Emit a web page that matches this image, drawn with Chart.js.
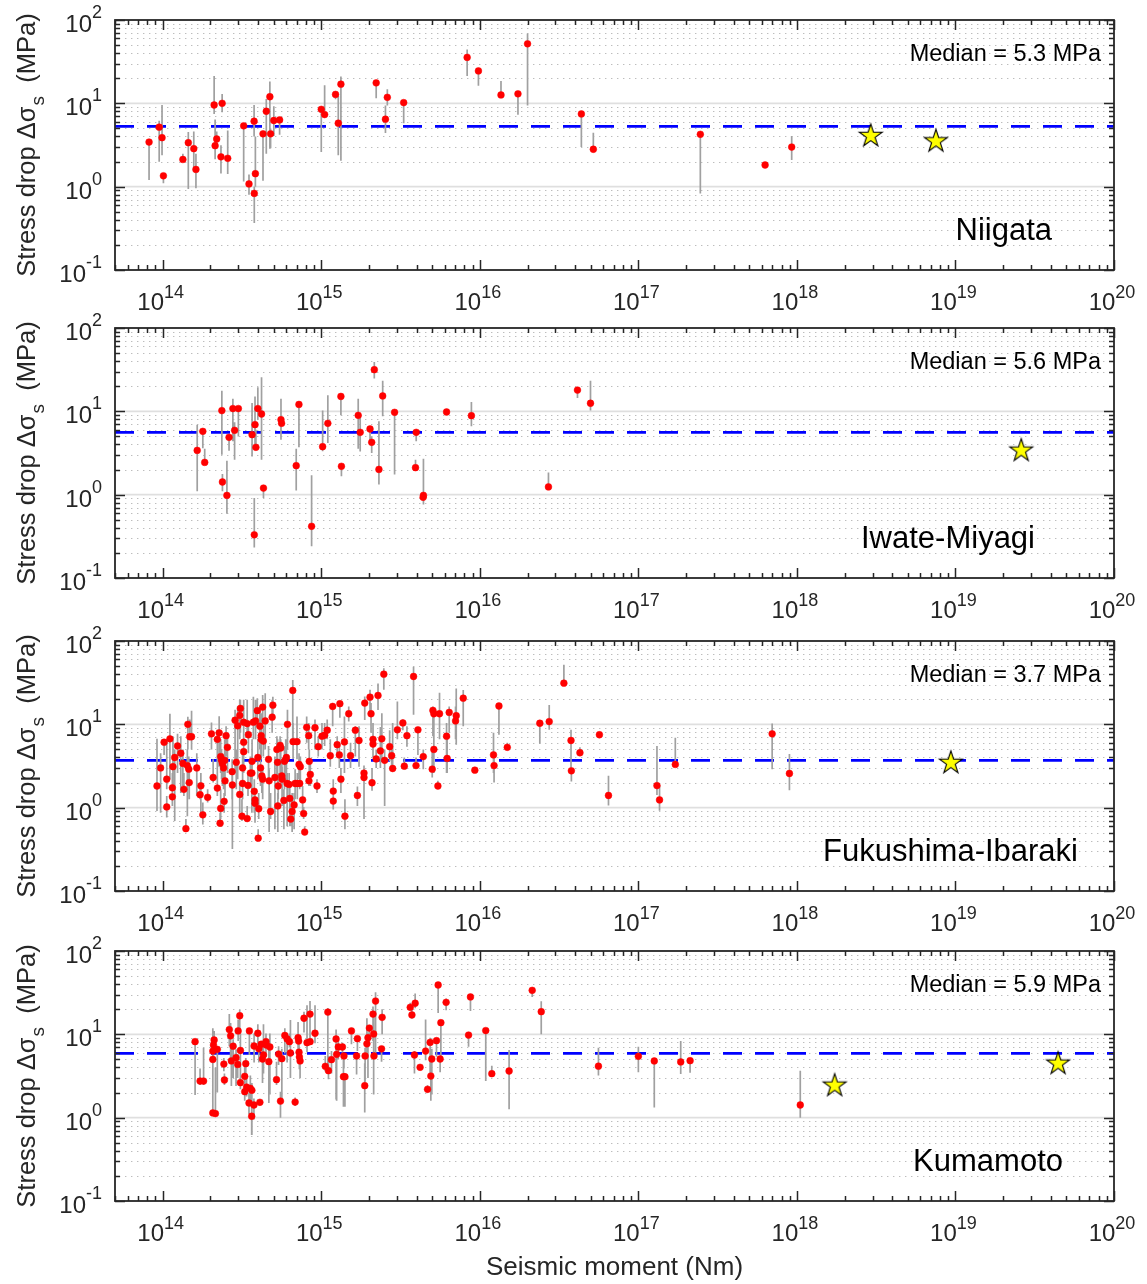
<!DOCTYPE html>
<html><head><meta charset="utf-8">
<script src="https://cdn.jsdelivr.net/npm/chart.js@4.4.1/dist/chart.umd.min.js"></script>
<style>
html,body{margin:0;padding:0;background:#fff;}
body{width:1147px;height:1284px;position:relative;overflow:hidden;}
canvas{position:absolute;left:0;}
</style></head>
<body>
<canvas id="c0"></canvas><canvas id="c1"></canvas><canvas id="c2"></canvas><canvas id="c3"></canvas>
<script>
// ---------------- DATA ----------------
const xTickExp = [14, 15, 16, 17, 18, 19, 20];
const yTickExp = [-1, 0, 1, 2];
const regionNames = ['Niigata', 'Iwate-Miyagi', 'Fukushima-Ibaraki', 'Kumamoto'];
const medians = [5.3, 5.6, 3.7, 5.9];
const xTitle = 'Seismic moment (Nm)';

// Niigata
const niigataM  = [8.2e13,9.5e13,9.9e13,1.01e14,1.34e14,1.45e14,1.57e14,1.62e14,2.11e14,2.14e14,2.19e14,2.37e14,2.33e14,2.57e14,3.24e14,3.5e14,3.77e14,3.78e14,3.84e14,4.29e14,4.5e14,4.74e14,4.79e14,5.02e14,5.46e14,1.0e15,1.05e15,1.23e15,1.28e15,1.33e15,2.22e15,2.61e15,2.54e15,3.31e15,8.32e15,9.8e15,1.36e16,1.74e16,2.0e16,4.37e16,5.2e16,2.46e17,6.3e17,9.27e17];
const niigataSd = [3.43,5.18,3.87,1.35,2.12,3.37,2.86,1.61,9.55,3.1,3.73,10,2.28,2.19,5.37,1.08,6.1,0.83,1.43,4.31,8.03,12.0,4.31,6.22,6.33,8.48,7.33,12.8,5.78,17.0,17.6,11.8,6.45,10.2,35.6,24.5,12.6,13.0,51.8,7.46,2.81,4.25,1.82,2.99];
const niigataLo = [1.2,1.99,2.38,1.1,2.12,0.94,1.65,0.955,7.46,2.13,3.2,7.8,1.44,1.42,1.15,0.8,4.0,0.366,1.0,1.18,2.49,2.86,2.9,4.05,4.2,2.61,7.33,11.2,2.38,2.04,11.5,9.4,4.4,5.78,21.3,16.2,12.6,7.3,9.4,2.99,2.81,0.83,1.75,2.09];
const niigataHi = [3.43,6.2,9.55,1.35,2.49,4.52,4.6,2.49,21.3,6.4,4.6,12.9,3.13,4.73,5.37,1.4,9.55,1.0,4.0,4.31,11.3,18.3,5.0,9.2,6.33,8.48,16.5,12.8,12.3,21,17.6,14.8,9.4,10.2,44.3,24.5,18.5,13.0,68.8,7.46,4.43,4.25,1.9,4.06];
const niigataStarM = [2.92e18, 7.53e18];
const niigataStarSd = [4.17, 3.6];

// Iwate-Miyagi
const iwateM  = [1.65e14,1.79e14,1.84e14,2.36e14,2.38e14,2.54e14,2.62e14,2.77e14,2.84e14,3.0e14,3.66e14,3.82e14,3.87e14,3.78e14,3.98e14,4.2e14,4.32e14,5.57e14,5.62e14,6.95e14,7.23e14,8.69e14,1.02e15,1.1e15,1.33e15,1.34e15,1.71e15,1.76e15,2.03e15,2.08e15,2.16e15,2.31e15,2.44e15,2.9e15,3.97e15,3.93e15,4.41e15,4.39e15,6.17e15,8.85e15,2.71e16,4.13e16,4.99e16];
const iwateSd = [3.4,5.75,2.44,10.2,1.42,0.98,4.88,10.8,5.92,10.8,5.25,6.92,3.7,0.33,10.8,9.29,1.2,7.94,7.18,2.23,12.1,0.417,3.77,7.18,15.1,2.19,8.95,5.6,6.14,4.25,31.6,2.01,15.3,9.73,5.6,2.11,0.98,0.93,9.82,8.87,1.24,18.0,12.5];
const iwateLo = [1.1,3.6,2.44,3.02,1.1,0.59,3.37,4.37,2.63,5.0,2.88,3.98,3.7,0.233,7.94,2.63,0.91,4.57,7.18,1.12,3.7,0.24,3.31,4.17,8.95,1.66,3.56,3.3,4.0,3.16,24.7,1.32,8.71,1.74,4.37,2.11,0.76,0.93,9.82,6.61,1.24,14.5,10.2];
const iwateHi = [6.9,5.75,3.56,17.7,1.77,2.56,4.88,14.2,7.38,10.8,12.6,15.1,6.0,0.91,19.4,25.6,1.2,14.2,7.18,3.56,12.1,1.71,10.2,15.6,15.1,2.19,14.2,9.0,6.14,5.0,39.1,7.59,23.3,9.73,5.6,2.63,2.7,0.98,9.82,12.9,1.85,18.0,23.3];
const iwateStarM = [2.6e19];
const iwateStarSd = [3.47];

// Fukushima-Ibaraki
const fukuM  = [9.2e13,9.7e13,1.02e14,1.06e14,1.06e14,1.11e14,1.15e14,1.15e14,1.16e14,1.19e14,1.24e14,1.30e14,1.34e14,1.36e14,1.40e14,1.43e14,1.44e14,1.46e14,1.47e14,1.48e14,
 1.52e14,1.64e14,1.74e14,1.72e14,1.79e14,1.92e14,2.03e14,2.08e14,2.21e14,2.21e14,2.27e14,2.30e14,2.32e14,2.32e14,2.35e14,2.38e14,2.42e14,2.46e14,2.44e14,2.47e14,
 2.51e14,2.56e14,2.74e14,2.75e14,2.86e14,2.91e14,2.97e14,3.06e14,3.09e14,3.06e14,3.16e14,3.19e14,3.19e14,3.24e14,3.24e14,3.24e14,3.41e14,3.45e14,3.47e14,3.41e14,
 3.57e14,3.65e14,3.66e14,3.73e14,3.78e14,3.82e14,3.82e14,3.85e14,3.95e14,3.98e14,4.0e14,4.03e14,4.10e14,4.14e14,4.18e14,4.18e14,4.22e14,4.27e14,4.31e14,4.27e14,
 4.43e14,4.65e14,4.69e14,4.79e14,4.90e14,4.95e14,5.10e14,5.25e14,5.30e14,5.32e14,5.35e14,5.50e14,5.55e14,5.64e14,5.66e14,5.81e14,5.86e14,5.97e14,6.03e14,6.09e14,
 6.27e14,6.12e14,6.33e14,6.42e14,6.55e14,6.61e14,6.64e14,6.74e14,6.84e14,7.03e14,7.06e14,7.24e14,7.31e14,7.38e14,7.63e14,7.74e14,7.86e14,8.09e14,8.33e14,8.40e14,
 8.53e14,8.36e14,9.13e14,9.4e14,9.57e14,1.01e15,1.05e15,1.09e15,1.14e15,1.18e15,1.19e15,1.19e15,1.31e15,1.26e15,1.30e15,1.33e15,1.40e15,1.41e15,1.49e15,1.53e15,
 1.64e15,1.69e15,1.73e15,1.86e15,1.86e15,1.88e15,2.03e15,2.06e15,2.09e15,2.12e15,2.12e15,2.22e15,2.28e15,2.36e15,2.41e15,2.48e15,2.51e15,2.70e15,2.78e15,2.82e15,
 3.02e15,3.27e15,3.34e15,3.47e15,3.82e15,3.96e15,4.07e15,4.40e15,5.01e15,5.06e15,5.13e15,5.13e15,5.44e15,5.57e15,6.17e15,6.22e15,6.41e15,7.03e15,7.10e15,7.86e15,
 9.30e15,1.22e16,1.23e16,1.32e16,1.49e16,2.39e16,2.74e16,3.39e16,3.76e16,3.78e16,4.28e16,5.68e16,6.48e16,1.31e17,1.36e17,1.71e17,6.98e17,8.97e17];
const fukuSd = [1.82,3.0,6.1,2.2,1.02,6.7,1.73,1.35,3.1,4.0,5.5,4.5,3.4,1.66,0.56,3.2,10,2.9,2.0,7.1,
 7.1,3.0,1.83,1.43,0.82,1.33,7.7,2.3,6.6,1.72,7.9,0.65,0.98,4.1,3.7,3.4,3.0,3.7,1.19,2.1,
 7.3,5.3,2.7,1.87,11.2,3.5,9.6,12.8,15.5,1.44,0.79,1.95,3.0,6.1,4.7,10.6,0.74,1.85,7.5,10.2,
 2.6,2.6,3.6,10.6,1.57,1.24,1.13,11.0,14.6,4.0,0.43,0.97,9.5,3.0,6.6,7.3,2.4,2.2,6.3,16.1,
 11.0,3.8,2.1,0.9,12.2,17.0,2.3,5.0,3.5,1.05,1.82,5.6,5.2,2.4,2.2,1.22,3.6,3.8,4.0,1.95,
 1.9,10.0,1.29,0.73,0.9,25.5,6.2,1.08,1.95,6.2,1.95,3.3,1.95,3.1,1.24,0.85,0.51,9.2,7.3,3.6,
 2.5,2.1,9.1,1.82,5.4,7.2,7.4,8.5,4.2,16.4,1.58,1.2,17.7,5.7,4.3,2.2,6.15,0.79,13.4,4.2,
 8.5,1.40,6.4,2.6,2.3,18.0,21.2,13.4,1.99,6.6,5.8,3.85,22.2,4.8,6.7,40,3.7,5.4,4.2,2.95,
 8.6,10.4,3.15,7.3,37.5,3.2,8.6,4.1,2.9,14.7,13.4,5.0,1.82,13.4,7.2,3.9,13.9,11.0,12.7,20.6,
 2.82,4.3,3.2,16.6,5.3,10.3,10.8,31.2,6.4,2.77,4.56,7.5,1.4,1.84,1.24,3.3,7.7,2.57];
const fukuLo = [0.91,0.87,4.3,1.66,0.76,2.2,1.26,1.05,1.82,0.69,2.6,1.5,1.82,1.38,0.53,0.79,5.0,2.2,1.26,6.6,
 5.0,1.38,0.79,1.26,0.63,1.15,5.0,2.0,1.82,1.38,3.1,0.6,0.73,2.6,2.2,1.82,1.66,2.2,0.87,1.38,
 4.1,2.6,1.26,0.32,2.6,1.66,2.2,6.6,7.9,0.87,0.69,1.26,2.2,3.8,2.6,5.0,0.69,1.38,4.5,7.9,
 1.82,0.87,2.2,6.6,0.87,0.73,0.66,6.6,9.5,2.2,0.42,0.73,5.0,1.82,3.8,5.5,1.5,1.26,4.1,9.5,
 5.0,2.0,0.51,0.73,7.9,12.4,0.55,2.2,1.82,0.51,1.26,2.6,2.0,1.82,1.05,0.55,1.66,1.82,2.6,0.6,
 1.26,5.0,0.6,0.6,0.51,6.6,3.8,0.55,1.26,3.8,1.26,2.2,1.66,1.82,0.87,0.73,0.48,6.0,5.0,2.6,
 1.82,1.82,5.0,1.5,4.1,5.0,5.5,6.6,3.1,9.5,1.26,0.95,12,4.5,3.0,1.5,2.6,0.55,10.8,3.0,
 4.1,1.05,3.1,0.73,1.5,11.3,13.7,7.9,1.6,4.6,4.0,3.0,14.9,3.0,3.6,26,1.05,3.6,3.2,2.8,
 6.6,8.5,2.9,5.4,13,3.2,4.3,2.9,2.3,7.2,6.6,2.6,1.82,6.6,2.6,2.6,7.9,6.6,5.7,9.5,
 2.82,2.6,2.0,7.5,5.3,5.85,8.6,31.2,2.8,2.06,4.56,7.5,1.06,1.42,0.92,3.3,2.9,1.62];
const fukuHi = [6.7,4.5,6.6,6.6,1.38,13.4,2.6,1.35,7.2,5.0,7.7,7.2,5.0,2.6,0.73,5.0,12.3,4.1,3.2,11.4,
 14.6,4.5,2.6,2.0,1.15,1.66,10.5,3.8,8.6,2.6,12.5,0.87,1.66,6.6,5.0,4.5,4.1,6.6,1.5,3.1,
 9.5,7.2,3.8,2.6,15.0,5.0,16.4,19.7,19.7,2.0,1.26,3.2,5.0,10.4,6.6,19.7,1.05,2.6,10.4,19.7,
 4.1,3.5,6.6,21.5,2.2,1.66,1.38,19.7,20.6,6.6,0.55,1.5,16.4,5.0,13.6,9.5,3.1,3.1,9.5,22.5,
 23.6,5.5,2.9,1.5,19.7,21.5,4.1,7.2,6.6,1.5,2.6,7.2,6.6,3.8,3.1,1.66,5.5,6.6,6.0,2.6,
 2.6,15.0,1.82,1.05,1.5,34,10.4,1.5,2.9,12.4,2.6,4.5,2.6,4.1,1.82,1.02,0.6,12.4,10.4,5.0,
 3.5,2.6,11.4,2.2,7.2,10.4,10.4,11.4,6.6,18.0,2.2,1.66,19,7.2,5.5,3.0,12.4,1.26,16.4,6.0,
 9.5,1.8,9.5,3.2,2.6,21.6,26,18,3.0,10.4,7.0,5.0,31,9.3,13.6,47,5.0,8.5,5.5,10.4,
 18.8,11.4,4.0,9.5,49,4.0,8.6,5.0,5.0,16.4,15.5,6.6,2.1,24,10.4,7.2,16.4,16.4,27,25.9,
 2.82,7.9,4.5,16.6,6.0,10.3,17.1,52,8.6,2.77,5.3,7.5,2.41,5.5,1.84,6.9,10.2,4.4];
const fukuStarM = [9.35e18];
const fukuStarSd = [3.55];

// Kumamoto
const kumaM  = [1.6e14,1.72e14,1.81e14,2.07e14,2.15e14,2.07e14,2.07e14,2.09e14,2.11e14,2.21e14,2.43e14,2.45e14,2.63e14,2.68e14,2.71e14,2.78e14,2.90e14,2.97e14,2.99e14,3.06e14,
 3.09e14,3.09e14,3.29e14,3.34e14,3.29e14,3.38e14,3.52e14,3.50e14,3.57e14,3.65e14,3.64e14,3.76e14,3.77e14,3.98e14,4.04e14,4.10e14,4.18e14,4.26e14,4.32e14,4.48e14,
 4.50e14,4.67e14,4.74e14,5.22e14,5.38e14,5.53e14,5.64e14,5.89e14,6.09e14,6.30e14,6.39e14,6.84e14,7.14e14,7.20e14,7.24e14,7.28e14,7.35e14,7.78e14,8.13e14,8.49e14,
 8.50e14,9.13e14,1.06e15,1.10e15,1.11e15,1.16e15,1.24e15,1.25e15,1.28e15,1.36e15,1.39e15,1.38e15,1.41e15,1.55e15,1.67e15,1.69e15,1.88e15,1.89e15,1.94e15,1.97e15,
 2.01e15,2.12e15,2.14e15,2.15e15,2.20e15,2.40e15,2.42e15,3.64e15,3.73e15,3.91e15,3.87e15,4.20e15,4.55e15,4.68e15,4.86e15,4.91e15,4.98e15,5.33e15,5.46e15,5.62e15,
 5.68e15,6.13e15,8.49e15,8.73e15,1.09e16,1.19e16,1.53e16,2.14e16,2.44e16,5.6e16,1.0e17,1.26e17,1.85e17,2.12e17,1.05e18];
const kumaSd = [8.17,2.75,2.75,1.14,1.12,5.0,6.3,7.45,8.55,6.6,4.4,2.83,11.4,9.6,4.8,7.2,5.25,4.35,11.0,16.7,
 6.4,2.63,3.13,4.45,2.05,2.33,11.0,1.5,2.25,2.13,1.04,1.42,7.24,10.3,6.7,1.53,7.6,5.06,5.66,8.17,
 7.45,4.7,7.05,2.86,5.8,1.58,5.1,9.7,8.8,8.17,5.97,1.54,9.1,8.3,6.1,5.35,4.8,15.6,7.94,17.5,
 8.17,10.3,4.13,18.5,3.66,4.97,8.8,5.75,7.05,7.05,5.5,3.1,3.1,11.0,5.5,8.87,2.42,5.5,7.7,9.1,
 11.9,17.5,10.1,5.5,25.1,6.7,16.0,21.1,17.1,23.6,5.65,4.02,6.3,2.19,8.0,3.16,5.06,8.4,39.1,5.06,
 13.8,24.2,9.8,28.1,11.1,3.37,3.63,33.7,18.7,4.15,5.45,4.79,4.66,4.83,1.42];
const kumaLo = [1.87,2.47,2.47,1.1,1.05,3.0,4.0,5.0,6.0,2.0,3.6,2.47,7.2,4.6,2.4,3.0,2.4,3.0,8.3,11.0,
 3.0,2.2,1.9,3.0,1.6,1.8,5.65,1.1,1.4,0.62,0.62,0.95,4.6,7.6,4.6,1.4,7.6,2.6,3.4,5.4,
 7.45,1.5,1.9,2.47,4.3,1.0,1.6,5.9,4.6,7.0,3.0,1.38,5.9,8.3,4.6,3.8,3.0,10.5,6.1,8.3,
 8.17,7.8,3.6,3.7,2.9,3.4,1.65,1.6,5.0,6.0,3.9,1.35,1.35,7.6,3.3,6.3,1.15,2.7,5.5,3.0,
 7.6,8.3,1.9,5.5,5.2,4.7,10,19.5,15.4,20.5,3.4,4.02,4.9,2.0,3.0,1.6,1.9,5.4,18,3.5,
 5.06,19.5,7.1,19.1,2.75,3.37,1.26,28,10,3.2,3.5,1.32,3.35,3.46,1.0];
const kumaHi = [8.17,3.9,6.9,11.8,4.0,6.3,8.5,9.0,11.0,7.2,5.2,3.4,17.5,13.7,7.2,8.7,6.6,5.8,15.1,19.7,
 10.2,3.4,4.7,5.2,2.4,3.0,11.8,2.0,3.2,2.6,1.4,1.7,10.2,13.2,8.2,1.55,7.6,8.2,13.2,10.2,
 7.45,6.7,10.2,4.7,7.2,2.05,6.7,11.8,10.2,10.2,14.9,1.74,14.1,8.3,7.6,6.6,6.6,18.7,22.3,25.2,
 8.17,22.3,5.5,20.7,5.5,6.3,11.4,6.3,8.5,7.9,5.5,5.0,3.1,11.0,5.5,8.87,4.5,6.9,15.6,10.5,
 12.9,21.6,18,5.5,32,6.9,20,24,20.3,31,6.3,4.02,15.1,2.45,9.1,3.6,6.7,9.1,39.1,5.5,
 13.8,27,9.8,28.1,11.1,4.2,6.5,33.7,25,6.9,7.1,4.79,8.3,4.83,3.66];
const kumaStarM = [1.73e18, 4.44e19];
const kumaStarSd = [2.49, 4.57];

const panelM  = [niigataM, iwateM, fukuM, kumaM];
const panelSd = [niigataSd, iwateSd, fukuSd, kumaSd];
const panelLo = [niigataLo, iwateLo, fukuLo, kumaLo];
const panelHi = [niigataHi, iwateHi, fukuHi, kumaHi];
const panelStarM  = [niigataStarM, iwateStarM, fukuStarM, kumaStarM];
const panelStarSd = [niigataStarSd, iwateStarSd, fukuStarSd, kumaStarSd];

// ---------------- LAYOUT / STYLE ----------------
const W = 1147, AL = 115, AR = 1114, PH = 250;
const panelTops = [20, 328, 641, 951];
const labelRight = [1052, 1035, 1078, 1063];
const XMIN = 5e13, XMAX = 1e20, YMIN = 0.1, YMAX = 100;
const FONT = "'Liberation Sans', Arial, Helvetica, sans-serif";
const AXC = '#262626';

function makeStar(R) {
  const c = document.createElement('canvas');
  const s = Math.ceil(R * 2 + 4);
  c.width = s; c.height = s;
  const g = c.getContext('2d');
  const cx = s / 2, cy = s / 2 + 1, r = R * 0.382;
  g.beginPath();
  for (let k = 0; k < 10; k++) {
    const a = -Math.PI / 2 + k * Math.PI / 5;
    const rr = k % 2 === 0 ? R : r;
    const px = cx + rr * Math.cos(a), py = cy + rr * Math.sin(a);
    if (k === 0) g.moveTo(px, py); else g.lineTo(px, py);
  }
  g.closePath();
  g.fillStyle = '#ffff00'; g.fill();
  g.lineWidth = 1.1; g.strokeStyle = '#000'; g.stroke();
  return c;
}
const starImg = makeStar(12);

function drawPow(ctx, exp, x, y, align, baseSize, expSize, expRise) {
  ctx.font = baseSize + 'px ' + FONT;
  const wb = ctx.measureText('10').width;
  ctx.font = expSize + 'px ' + FONT;
  const es = String(exp);
  const we = ctx.measureText(es).width;
  const w = wb + we;
  let x0 = align === 'right' ? x - w : x - w / 2;
  ctx.textAlign = 'left';
  ctx.textBaseline = 'alphabetic';
  ctx.font = baseSize + 'px ' + FONT;
  ctx.fillText('10', x0, y);
  ctx.font = expSize + 'px ' + FONT;
  ctx.fillText(es, x0 + wb, y - expRise);
}

const gridPlugin = {
  id: 'loggrid',
  beforeDatasetsDraw(chart) {
    const ctx = chart.ctx, ys = chart.scales.y, a = chart.chartArea;
    ctx.save();
    ctx.strokeStyle = '#bdbdbd'; ctx.lineWidth = 1.2; ctx.setLineDash([1.4, 4.6]);
    for (let d = -1; d < 2; d++) {
      for (let m = 2; m <= 9; m++) {
        const py = Math.round(ys.getPixelForValue(m * Math.pow(10, d))) + 0.5;
        ctx.beginPath(); ctx.moveTo(a.left + 4, py); ctx.lineTo(a.right, py); ctx.stroke();
      }
    }
    ctx.setLineDash([]); ctx.strokeStyle = '#dfdfdf'; ctx.lineWidth = 1.6;
    for (const e of [0, 1]) {
      const py = ys.getPixelForValue(Math.pow(10, e));
      ctx.beginPath(); ctx.moveTo(a.left, py); ctx.lineTo(a.right, py); ctx.stroke();
    }
    ctx.restore();
  }
};

const framePlugin = {
  id: 'frame',
  afterDraw(chart) {
    const ctx = chart.ctx, xs = chart.scales.x, ys = chart.scales.y, a = chart.chartArea;
    const idx = chart.options.plugins.panelIndex;
    ctx.save();
    ctx.strokeStyle = AXC; ctx.lineWidth = 1.8;
    ctx.strokeRect(a.left, a.top, a.right - a.left, a.bottom - a.top);
    ctx.lineWidth = 1.5;
    for (let d = 13; d <= 20; d++) {
      for (let m = 1; m <= 9; m++) {
        const v = m * Math.pow(10, d);
        if (v < XMIN || v > XMAX) continue;
        const px = Math.round(xs.getPixelForValue(v)) + 0.5;
        const L = m === 1 ? 10 : 5;
        ctx.beginPath();
        ctx.moveTo(px, a.bottom); ctx.lineTo(px, a.bottom - L);
        ctx.moveTo(px, a.top); ctx.lineTo(px, a.top + L);
        ctx.stroke();
      }
    }
    for (let d = -1; d <= 2; d++) {
      for (let m = 1; m <= 9; m++) {
        const v = m * Math.pow(10, d);
        if (v < YMIN || v > YMAX) continue;
        const py = Math.round(ys.getPixelForValue(v)) + 0.5;
        const L = m === 1 ? 10 : 5;
        ctx.beginPath();
        ctx.moveTo(a.left, py); ctx.lineTo(a.left + L, py);
        ctx.moveTo(a.right, py); ctx.lineTo(a.right - L, py);
        ctx.stroke();
      }
    }
    ctx.fillStyle = AXC;
    for (const e of xTickExp) {
      const px = xs.getPixelForValue(Math.pow(10, e));
      drawPow(ctx, e, px - 2, a.bottom + 40, 'center', 24, 18, 12);
    }
    for (const e of yTickExp) {
      const py = ys.getPixelForValue(Math.pow(10, e));
      drawPow(ctx, e, 102, py + 12, 'right', 24, 18, 14);
    }
    const cy = (a.top + a.bottom) / 2;
    ctx.save();
    ctx.translate(35, cy);
    ctx.rotate(-Math.PI / 2);
    const f1 = '25.5px ' + FONT, f2 = '19px ' + FONT;
    const t1 = 'Stress drop \u0394\u03c3', t2 = 's', t3 = '  (MPa)';
    ctx.font = f1; const w1 = ctx.measureText(t1).width; const w3 = ctx.measureText(t3).width;
    ctx.font = f2; const w2 = ctx.measureText(t2).width;
    const tot = w1 + w2 + w3;
    let x0 = -tot / 2;
    ctx.textAlign = 'left'; ctx.textBaseline = 'alphabetic';
    ctx.font = f1; ctx.fillText(t1, x0, 0);
    ctx.font = f2; ctx.fillText(t2, x0 + w1 + 1, 9);
    ctx.font = f1; ctx.fillText(t3, x0 + w1 + w2, 0);
    ctx.restore();
    ctx.fillStyle = '#000';
    ctx.font = '23.5px ' + FONT; ctx.textAlign = 'right'; ctx.textBaseline = 'alphabetic';
    ctx.fillText('Median = ' + medians[idx].toFixed(1) + ' MPa', 1101, a.top + 41);
    ctx.font = '31px ' + FONT;
    ctx.fillText(regionNames[idx], labelRight[idx], a.top + 220);
    if (idx === 3) {
      ctx.fillStyle = AXC;
      ctx.font = '26px ' + FONT; ctx.textAlign = 'center';
      ctx.fillText(xTitle, (a.left + a.right) / 2, a.bottom + 74);
    }
    ctx.restore();
  }
};

function buildPanel(i) {
  const top = panelTops[i] - 20;
  const H = i < 3 ? 310 : 1284 - top;
  const cv = document.getElementById('c' + i);
  cv.width = W; cv.height = H;
  cv.style.top = top + 'px';
  cv.style.width = W + 'px'; cv.style.height = H + 'px';
  const M = panelM[i], S = panelSd[i], LO = panelLo[i], HI = panelHi[i];
  const bars = [];
  for (let k = 0; k < M.length; k++) {
    bars.push({ x: M[k], y: LO[k] }, { x: M[k], y: HI[k] }, { x: M[k], y: null });
  }
  const pts = M.map((m, k) => ({ x: m, y: S[k] }));
  const stars = panelStarM[i].map((m, k) => ({ x: m, y: panelStarSd[i][k] }));
  new Chart(cv, {
    type: 'scatter',
    data: {
      datasets: [
        { label: 'median', data: [{ x: XMIN, y: medians[i] }, { x: XMAX, y: medians[i] }], showLine: true,
          borderColor: '#0000ff', borderWidth: 2.7, borderDash: [19, 13], pointRadius: 0, order: 3 },
        { label: 'range', data: bars, showLine: true, spanGaps: false, borderColor: '#a0a0a0',
          borderWidth: 1.7, pointRadius: 0, order: 2 },
        { label: 'stress drop', data: pts, backgroundColor: '#ff0000', borderColor: '#ff0000',
          borderWidth: 0.5, pointRadius: 3.4, order: 1 },
        { label: 'mainshock', data: stars, pointStyle: starImg, pointRadius: 11, order: 0 }
      ]
    },
    options: {
      responsive: false, animation: false, events: [],
      layout: { padding: { top: 20, left: 0, right: W - AR, bottom: 0 } },
      plugins: { legend: { display: false }, tooltip: { enabled: false }, panelIndex: i },
      scales: {
        x: { type: 'logarithmic', min: XMIN, max: XMAX, grid: { display: false }, border: { display: false },
             ticks: { display: false }, afterFit(s) { s.height = H - 20 - PH; } },
        y: { type: 'logarithmic', min: YMIN, max: YMAX, grid: { display: false }, border: { display: false },
             ticks: { display: false }, afterFit(s) { s.width = AL; } }
      }
    },
    plugins: [gridPlugin, framePlugin]
  });
}
for (let i = 0; i < 4; i++) buildPanel(i);
</script>
</body></html>
